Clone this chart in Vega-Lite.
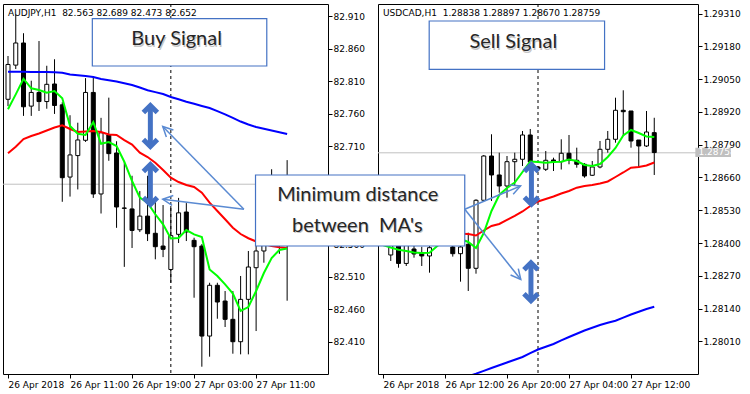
{
  "$schema": "https://vega.github.io/schema/vega-lite/v6.json",
  "background": "white",
  "padding": {"left": 2, "top": 3, "right": 5, "bottom": 3},
  "config": {
    "view": {"stroke": "black", "strokeWidth": 1, "fill": "white"},
    "axis": {"labelFont": "DejaVu Sans", "labelFontSize": 9, "labelColor": "black", "tickColor": "black", "domain": false, "grid": false, "title": null, "tickSize": 4, "labelPadding": 1, "labelOverlap": false, "labelBound": false, "labelFlush": false, "tickCount": 30},
    "title": {"font": "DejaVu Sans", "fontSize": 9, "fontWeight": "normal", "color": "black", "anchor": "start", "frame": "group", "offset": -14, "dx": 5}
  },
  "datasets": {
    "aj_c": [
      {"h": 3, "o": 82.7825, "hi": 82.849, "lo": 82.772, "c": 82.836},
      {"h": 4, "o": 82.835, "hi": 82.913, "lo": 82.829, "c": 82.869},
      {"h": 5, "o": 82.869, "hi": 82.884, "lo": 82.757, "c": 82.771},
      {"h": 6, "o": 82.772, "hi": 82.811, "lo": 82.757, "c": 82.793},
      {"h": 7, "o": 82.793, "hi": 82.872, "lo": 82.7645, "c": 82.779},
      {"h": 8, "o": 82.779, "hi": 82.834, "lo": 82.768, "c": 82.8055},
      {"h": 9, "o": 82.806, "hi": 82.844, "lo": 82.76, "c": 82.773},
      {"h": 10, "o": 82.774, "hi": 82.778, "lo": 82.625, "c": 82.662},
      {"h": 11, "o": 82.663, "hi": 82.758, "lo": 82.633, "c": 82.697},
      {"h": 12, "o": 82.696, "hi": 82.7465, "lo": 82.644, "c": 82.72},
      {"h": 13, "o": 82.7195, "hi": 82.815, "lo": 82.717, "c": 82.793},
      {"h": 14, "o": 82.793, "hi": 82.818, "lo": 82.631, "c": 82.637},
      {"h": 15, "o": 82.637, "hi": 82.754, "lo": 82.607, "c": 82.731},
      {"h": 16, "o": 82.7276, "hi": 82.785, "lo": 82.688, "c": 82.699},
      {"h": 17, "o": 82.7, "hi": 82.718, "lo": 82.585, "c": 82.617},
      {"h": 18, "o": 82.6155, "hi": 82.687, "lo": 82.525, "c": 82.615},
      {"h": 19, "o": 82.614, "hi": 82.665, "lo": 82.554, "c": 82.581},
      {"h": 20, "o": 82.582, "hi": 82.6415, "lo": 82.5785, "c": 82.603},
      {"h": 21, "o": 82.603, "hi": 82.665, "lo": 82.5647, "c": 82.576},
      {"h": 22, "o": 82.5766, "hi": 82.631, "lo": 82.5366, "c": 82.556},
      {"h": 23, "o": 82.557, "hi": 82.62, "lo": 82.54, "c": 82.552},
      {"h": 24, "o": 82.521, "hi": 82.6185, "lo": 82.5006, "c": 82.573},
      {"h": 25, "o": 82.575, "hi": 82.631, "lo": 82.5617, "c": 82.608},
      {"h": 26, "o": 82.6093, "hi": 82.623, "lo": 82.5647, "c": 82.5786},
      {"h": 27, "o": 82.5658, "hi": 82.5698, "lo": 82.4776, "c": 82.556},
      {"h": 28, "o": 82.557, "hi": 82.56, "lo": 82.3716, "c": 82.4187},
      {"h": 29, "o": 82.4187, "hi": 82.5006, "lo": 82.387, "c": 82.4967},
      {"h": 30, "o": 82.4967, "hi": 82.5006, "lo": 82.4453, "c": 82.471},
      {"h": 31, "o": 82.4725, "hi": 82.4879, "lo": 82.4326, "c": 82.4444},
      {"h": 32, "o": 82.4444, "hi": 82.4879, "lo": 82.3916, "c": 82.41},
      {"h": 33, "o": 82.41, "hi": 82.511, "lo": 82.3906, "c": 82.4751},
      {"h": 34, "o": 82.4751, "hi": 82.5494, "lo": 82.3906, "c": 82.5248},
      {"h": 35, "o": 82.5237, "hi": 82.56, "lo": 82.4264, "c": 82.5494},
      {"h": 36, "o": 82.5494, "hi": 82.583, "lo": 82.5314, "c": 82.5724},
      {"h": 37, "o": 82.572, "hi": 82.675, "lo": 82.565, "c": 82.61},
      {"h": 38, "o": 82.61, "hi": 82.63, "lo": 82.545, "c": 82.563},
      {"h": 39, "o": 82.563, "hi": 82.689, "lo": 82.473, "c": 82.652}
    ],
    "aj_m": [
      {"h": 3, "fast": 82.7671, "mid": 82.6995, "slow": 82.8249},
      {"h": 4, "fast": 82.7901, "mid": 82.7096, "slow": 82.8248},
      {"h": 5, "fast": 82.8141, "mid": 82.7215, "slow": 82.8247},
      {"h": 6, "fast": 82.7994, "mid": 82.7261, "slow": 82.8246},
      {"h": 7, "fast": 82.7968, "mid": 82.7299, "slow": 82.8245},
      {"h": 8, "fast": 82.7926, "mid": 82.7345, "slow": 82.8244},
      {"h": 9, "fast": 82.7952, "mid": 82.7391, "slow": 82.824},
      {"h": 10, "fast": 82.784, "mid": 82.7425, "slow": 82.8233},
      {"h": 11, "fast": 82.7414, "mid": 82.7368, "slow": 82.8206},
      {"h": 12, "fast": 82.7296, "mid": 82.7322, "slow": 82.8195},
      {"h": 13, "fast": 82.7276, "mid": 82.733, "slow": 82.8183},
      {"h": 14, "fast": 82.7476, "mid": 82.7338, "slow": 82.8167},
      {"h": 15, "fast": 82.7142, "mid": 82.7322, "slow": 82.8137},
      {"h": 16, "fast": 82.7168, "mid": 82.7284, "slow": 82.8118},
      {"h": 17, "fast": 82.7107, "mid": 82.7276, "slow": 82.8098},
      {"h": 18, "fast": 82.6866, "mid": 82.7199, "slow": 82.8072},
      {"h": 19, "fast": 82.6569, "mid": 82.713, "slow": 82.8044},
      {"h": 20, "fast": 82.6313, "mid": 82.7004, "slow": 82.8005},
      {"h": 21, "fast": 82.6236, "mid": 82.6938, "slow": 82.7963},
      {"h": 22, "fast": 82.6058, "mid": 82.685, "slow": 82.7935},
      {"h": 23, "fast": 82.5904, "mid": 82.6738, "slow": 82.7906},
      {"h": 24, "fast": 82.5686, "mid": 82.662, "slow": 82.786},
      {"h": 25, "fast": 82.5693, "mid": 82.6554, "slow": 82.7825},
      {"h": 26, "fast": 82.5816, "mid": 82.6508, "slow": 82.7788},
      {"h": 27, "fast": 82.575, "mid": 82.6477, "slow": 82.7755},
      {"h": 28, "fast": 82.5709, "mid": 82.6389, "slow": 82.7722},
      {"h": 29, "fast": 82.5209, "mid": 82.6236, "slow": 82.7691},
      {"h": 30, "fast": 82.5109, "mid": 82.6108, "slow": 82.7643},
      {"h": 31, "fast": 82.4982, "mid": 82.5981, "slow": 82.7594},
      {"h": 32, "fast": 82.4841, "mid": 82.5852, "slow": 82.7538},
      {"h": 33, "fast": 82.4572, "mid": 82.5755, "slow": 82.7483},
      {"h": 34, "fast": 82.4633, "mid": 82.569, "slow": 82.7437},
      {"h": 35, "fast": 82.4879, "mid": 82.564, "slow": 82.7399},
      {"h": 36, "fast": 82.5156, "mid": 82.56, "slow": 82.7372},
      {"h": 37, "fast": 82.5386, "mid": 82.557, "slow": 82.7345},
      {"h": 38, "fast": 82.5509, "mid": 82.555, "slow": 82.7318},
      {"h": 39, "fast": 82.5532, "mid": 82.554, "slow": 82.7291}
    ],
    "uc_c": [
      {"h": 4, "o": 1.2856, "hi": 1.2858, "lo": 1.2852, "c": 1.2854},
      {"h": 5, "o": 1.283525, "hi": 1.28425, "lo": 1.283287, "c": 1.28408},
      {"h": 6, "o": 1.284, "hi": 1.2842, "lo": 1.28302, "c": 1.28319},
      {"h": 7, "o": 1.28319, "hi": 1.28415, "lo": 1.283089, "c": 1.284},
      {"h": 8, "o": 1.283763, "hi": 1.28395, "lo": 1.283418, "c": 1.283565},
      {"h": 9, "o": 1.283617, "hi": 1.28385, "lo": 1.283089, "c": 1.283486},
      {"h": 10, "o": 1.283486, "hi": 1.284, "lo": 1.282823, "c": 1.283815},
      {"h": 11, "o": 1.2842, "hi": 1.2846, "lo": 1.284, "c": 1.2844},
      {"h": 12, "o": 1.2844, "hi": 1.2847, "lo": 1.28395, "c": 1.2841},
      {"h": 13, "o": 1.283843, "hi": 1.2842, "lo": 1.28346, "c": 1.283577},
      {"h": 14, "o": 1.283577, "hi": 1.2842, "lo": 1.282466, "c": 1.283843},
      {"h": 15, "o": 1.28395, "hi": 1.28441, "lo": 1.282096, "c": 1.282997},
      {"h": 16, "o": 1.282997, "hi": 1.285736, "lo": 1.282783, "c": 1.285696},
      {"h": 17, "o": 1.285696, "hi": 1.287493, "lo": 1.285668, "c": 1.287453},
      {"h": 18, "o": 1.287453, "hi": 1.288315, "lo": 1.285668, "c": 1.2867},
      {"h": 19, "o": 1.2867, "hi": 1.287585, "lo": 1.285997, "c": 1.286263},
      {"h": 20, "o": 1.286263, "hi": 1.287453, "lo": 1.285799, "c": 1.287227},
      {"h": 21, "o": 1.287227, "hi": 1.287585, "lo": 1.286263, "c": 1.287323},
      {"h": 22, "o": 1.287323, "hi": 1.288446, "lo": 1.287057, "c": 1.288287},
      {"h": 23, "o": 1.288287, "hi": 1.288525, "lo": 1.287017, "c": 1.287216},
      {"h": 24, "o": 1.287017, "hi": 1.287057, "lo": 1.286858, "c": 1.286926},
      {"h": 25, "o": 1.286926, "hi": 1.287652, "lo": 1.286858, "c": 1.287283},
      {"h": 26, "o": 1.287295, "hi": 1.287386, "lo": 1.286858, "c": 1.287227},
      {"h": 27, "o": 1.287227, "hi": 1.288116, "lo": 1.286917, "c": 1.287561},
      {"h": 28, "o": 1.287561, "hi": 1.288287, "lo": 1.287124, "c": 1.287283},
      {"h": 29, "o": 1.287283, "hi": 1.287783, "lo": 1.286989, "c": 1.287124},
      {"h": 30, "o": 1.287124, "hi": 1.28717, "lo": 1.286592, "c": 1.28666},
      {"h": 31, "o": 1.286688, "hi": 1.287255, "lo": 1.28666, "c": 1.287017},
      {"h": 32, "o": 1.287017, "hi": 1.288049, "lo": 1.286965, "c": 1.287719},
      {"h": 33, "o": 1.287719, "hi": 1.288446, "lo": 1.287585, "c": 1.288116},
      {"h": 34, "o": 1.288116, "hi": 1.289767, "lo": 1.287981, "c": 1.289267},
      {"h": 35, "o": 1.289267, "hi": 1.29006, "lo": 1.288247, "c": 1.289211},
      {"h": 36, "o": 1.289239, "hi": 1.289239, "lo": 1.287783, "c": 1.288049},
      {"h": 37, "o": 1.288088, "hi": 1.288088, "lo": 1.286989, "c": 1.28785},
      {"h": 38, "o": 1.28785, "hi": 1.289239, "lo": 1.287811, "c": 1.288406},
      {"h": 39, "o": 1.28838, "hi": 1.28897, "lo": 1.2867, "c": 1.28759}
    ],
    "uc_m": [
      {"h": 4, "fast": 1.283922, "mid": 1.28445, "slow": 1.2775},
      {"h": 5, "fast": 1.283823, "mid": 1.28444, "slow": 1.27761},
      {"h": 6, "fast": 1.283736, "mid": 1.28443, "slow": 1.27772},
      {"h": 7, "fast": 1.283684, "mid": 1.28442, "slow": 1.27783},
      {"h": 8, "fast": 1.283624, "mid": 1.28441, "slow": 1.27794},
      {"h": 9, "fast": 1.283605, "mid": 1.2844, "slow": 1.27805},
      {"h": 10, "fast": 1.283617, "mid": 1.2844, "slow": 1.27816},
      {"h": 11, "fast": 1.283882, "mid": 1.28439, "slow": 1.27827},
      {"h": 12, "fast": 1.28408, "mid": 1.28439, "slow": 1.27838},
      {"h": 13, "fast": 1.28416, "mid": 1.28438, "slow": 1.27849},
      {"h": 14, "fast": 1.28416, "mid": 1.28437, "slow": 1.2786},
      {"h": 15, "fast": 1.284041, "mid": 1.284358, "slow": 1.27871},
      {"h": 16, "fast": 1.283803, "mid": 1.284299, "slow": 1.278815},
      {"h": 17, "fast": 1.284398, "mid": 1.284497, "slow": 1.278928},
      {"h": 18, "fast": 1.285271, "mid": 1.284676, "slow": 1.279041},
      {"h": 19, "fast": 1.285906, "mid": 1.284755, "slow": 1.27915},
      {"h": 20, "fast": 1.286184, "mid": 1.284914, "slow": 1.27926},
      {"h": 21, "fast": 1.286402, "mid": 1.285073, "slow": 1.27937},
      {"h": 22, "fast": 1.286819, "mid": 1.285251, "slow": 1.279478},
      {"h": 23, "fast": 1.287235, "mid": 1.28547, "slow": 1.279627},
      {"h": 24, "fast": 1.287216, "mid": 1.285648, "slow": 1.279775},
      {"h": 25, "fast": 1.287188, "mid": 1.285747, "slow": 1.279885},
      {"h": 26, "fast": 1.287216, "mid": 1.285846, "slow": 1.279994},
      {"h": 27, "fast": 1.287227, "mid": 1.285965, "slow": 1.280133},
      {"h": 28, "fast": 1.287315, "mid": 1.286065, "slow": 1.280271},
      {"h": 29, "fast": 1.287255, "mid": 1.286196, "slow": 1.2804},
      {"h": 30, "fast": 1.287096, "mid": 1.286263, "slow": 1.280529},
      {"h": 31, "fast": 1.287057, "mid": 1.286303, "slow": 1.280638},
      {"h": 32, "fast": 1.287136, "mid": 1.286362, "slow": 1.280747},
      {"h": 33, "fast": 1.287414, "mid": 1.286442, "slow": 1.280833},
      {"h": 34, "fast": 1.287771, "mid": 1.28662, "slow": 1.280918},
      {"h": 35, "fast": 1.288267, "mid": 1.286799, "slow": 1.281041},
      {"h": 36, "fast": 1.288485, "mid": 1.286989, "slow": 1.281164},
      {"h": 37, "fast": 1.288366, "mid": 1.287017, "slow": 1.281273},
      {"h": 38, "fast": 1.288227, "mid": 1.287077, "slow": 1.281382},
      {"h": 39, "fast": 1.288207, "mid": 1.287196, "slow": 1.281473}
    ],
    "aj_ptr": [
      {"id": "upper", "h": 33.425, "p": 82.6134, "h2": 22.96, "p2": 82.7407},
      {"id": "lower", "h": 33.425, "p": 82.6134, "h2": 22.96, "p2": 82.6288}
    ],
    "aj_dbl": [
      {"h": 21.36, "top": 82.7729, "bot": 82.7099},
      {"h": 21.36, "top": 82.6823, "bot": 82.6208}
    ],
    "uc_ptr": [
      {"id": "upper", "h": 14.55, "p": 1.285339, "h2": 21.75, "p2": 1.286263},
      {"id": "lower", "h": 14.55, "p": 1.285339, "h2": 21.78, "p2": 1.282553}
    ],
    "uc_dbl": [
      {"h": 23.15, "top": 1.287116, "bot": 1.285541},
      {"h": 23.09, "top": 1.283216, "bot": 1.281708}
    ]
  },
  "hconcat": [
    {
      "width": 325,
      "height": 370,
      "title": {"text": "AUDJPY,H1\u00a0\u00a082.563 82.689 82.473 82.652"},
      "layer": [
        {
          "data": {"values": [{"t": 24}]},
          "mark": {"type": "rule", "color": "black", "strokeDash": [3, 3], "strokeWidth": 1},
          "encoding": {
            "x": {"field": "t", "type": "quantitative",
              "scale": {"domain": [3, 43.625], "nice": false, "zero": false},
              "axis": {"orient": "bottom", "values": [3, 11, 19, 27, 35], "labelAlign": "left", "labelPadding": 2,
                "labelExpr": "datum.value == 3 ? '26 Apr 2018' : datum.value == 11 ? '26 Apr 11:00' : datum.value == 19 ? '26 Apr 19:00' : datum.value == 27 ? '27 Apr 03:00' : '27 Apr 11:00'"}}
          }
        },
        {
          "data": {"values": [{"p": 82.652}]},
          "mark": {"type": "rule", "color": "#c0c0c0", "strokeWidth": 1},
          "encoding": {
            "y": {"field": "p", "type": "quantitative",
              "scale": {"domain": [82.3604, 82.9289], "nice": false, "zero": false},
              "axis": {"orient": "right", "tickCount": 30, "values": [82.41, 82.46, 82.51, 82.56, 82.61, 82.66, 82.71, 82.76, 82.81, 82.86, 82.91], "format": ".3f"}}
          }
        },
        {
          "data": {"name": "aj_c"},
          "mark": {"type": "rule", "color": "black", "strokeWidth": 1, "clip": true},
          "encoding": {
            "x": {"field": "h", "type": "quantitative"},
            "y": {"field": "lo", "type": "quantitative"},
            "y2": {"field": "hi"}
          }
        },
        {
          "data": {"name": "aj_c"},
          "mark": {"type": "bar", "width": 4, "stroke": "black", "strokeWidth": 1, "clip": true},
          "encoding": {
            "x": {"field": "h", "type": "quantitative"},
            "y": {"field": "o", "type": "quantitative"},
            "y2": {"field": "c"},
            "fill": {"condition": {"test": "datum.c > datum.o", "value": "white"}, "value": "black"}
          }
        },
        {
          "data": {"name": "aj_m"},
          "mark": {"type": "line", "color": "#0000ff", "strokeWidth": 2, "clip": true},
          "encoding": {"x": {"field": "h", "type": "quantitative"}, "y": {"field": "slow", "type": "quantitative"}}
        },
        {
          "data": {"name": "aj_m"},
          "mark": {"type": "line", "color": "#ff0000", "strokeWidth": 2, "clip": true},
          "encoding": {"x": {"field": "h", "type": "quantitative"}, "y": {"field": "mid", "type": "quantitative"}}
        },
        {
          "data": {"name": "aj_m"},
          "mark": {"type": "line", "color": "#00ff00", "strokeWidth": 2, "clip": true},
          "encoding": {"x": {"field": "h", "type": "quantitative"}, "y": {"field": "fast", "type": "quantitative"}}
        },
        {
          "data": {"values": [{"h": 13.875, "h2": 36.375, "p": 82.9063, "p2": 82.8336}]},
          "mark": {"type": "rect", "fill": "white", "stroke": "#4472c4", "strokeWidth": 1.2},
          "encoding": {
            "x": {"field": "h", "type": "quantitative"}, "x2": {"field": "h2"},
            "y": {"field": "p", "type": "quantitative"}, "y2": {"field": "p2"}
          }
        },
        {
          "data": {"values": [{"h": 24.75, "p": 82.8751, "label": "Buy Signal"}]},
          "mark": {"type": "text", "font": "Lato", "fontSize": 20, "color": "#000000", "opacity": 0.22, "dx": 1, "dy": 1.5, "align": "center", "baseline": "middle"},
          "encoding": {
            "x": {"field": "h", "type": "quantitative"},
            "y": {"field": "p", "type": "quantitative"},
            "text": {"field": "label"}
          }
        },
        {
          "data": {"values": [{"h": 24.75, "p": 82.8751, "label": "Buy Signal"}]},
          "mark": {"type": "text", "font": "Lato", "fontSize": 20, "color": "#262626", "align": "center", "baseline": "middle"},
          "encoding": {
            "x": {"field": "h", "type": "quantitative"},
            "y": {"field": "p", "type": "quantitative"},
            "text": {"field": "label"}
          }
        },
        {
          "data": {"name": "aj_ptr"},
          "mark": {"type": "rule", "color": "#5a8ad2", "strokeWidth": 1.5},
          "encoding": {
            "x": {"field": "h", "type": "quantitative"}, "x2": {"field": "h2"},
            "y": {"field": "p", "type": "quantitative"}, "y2": {"field": "p2"}
          }
        },
        {
          "data": {"name": "aj_ptr"},
          "transform": [{"filter": "datum.id == 'upper'"}],
          "mark": {"type": "point", "shape": "M-1,-0.5L0,0L-1,0.5", "filled": false, "color": "#5a8ad2", "strokeWidth": 1.5, "size": 400, "angle": 224.7, "opacity": 1},
          "encoding": {"x": {"field": "h2", "type": "quantitative"}, "y": {"field": "p2", "type": "quantitative"}}
        },
        {
          "data": {"name": "aj_ptr"},
          "transform": [{"filter": "datum.id == 'lower'"}],
          "mark": {"type": "point", "shape": "M-1,-0.5L0,0L-1,0.5", "filled": false, "color": "#5a8ad2", "strokeWidth": 1.5, "size": 400, "angle": 186.8, "opacity": 1},
          "encoding": {"x": {"field": "h2", "type": "quantitative"}, "y": {"field": "p2", "type": "quantitative"}}
        },
        {
          "data": {"name": "aj_dbl"},
          "mark": {"type": "rule", "color": "#4472c4", "strokeWidth": 5},
          "encoding": {
            "x": {"field": "h", "type": "quantitative"},
            "y": {"field": "top", "type": "quantitative"}, "y2": {"field": "bot"}
          }
        },
        {
          "data": {"name": "aj_dbl"},
          "mark": {"type": "point", "shape": "M-1,1L0,0L1,1", "filled": false, "color": "#4472c4", "strokeWidth": 5, "size": 196, "opacity": 1},
          "encoding": {"x": {"field": "h", "type": "quantitative"}, "y": {"field": "top", "type": "quantitative"}}
        },
        {
          "data": {"name": "aj_dbl"},
          "mark": {"type": "point", "shape": "M-1,-1L0,0L1,-1", "filled": false, "color": "#4472c4", "strokeWidth": 5, "size": 196, "opacity": 1},
          "encoding": {"x": {"field": "h", "type": "quantitative"}, "y": {"field": "bot", "type": "quantitative"}}
        }
      ]
    },
    {
      "width": 320,
      "height": 370,
      "title": {"text": "USDCAD,H1\u00a0\u00a01.28838 1.28897 1.28670 1.28759"},
      "layer": [
        {
          "data": {"values": [{"t": 24}]},
          "mark": {"type": "rule", "color": "black", "strokeDash": [3, 3], "strokeWidth": 1},
          "encoding": {
            "x": {"field": "t", "type": "quantitative",
              "scale": {"domain": [4, 44], "nice": false, "zero": false},
              "axis": {"orient": "bottom", "values": [4, 12, 20, 28, 36], "labelAlign": "left", "labelPadding": 2,
                "labelExpr": "datum.value == 4 ? '26 Apr 2018' : datum.value == 12 ? '26 Apr 12:00' : datum.value == 20 ? '26 Apr 20:00' : datum.value == 28 ? '27 Apr 04:00' : '27 Apr 12:00'"}}
          }
        },
        {
          "data": {"values": [{"p": 1.28758}]},
          "mark": {"type": "rule", "color": "#c0c0c0", "strokeWidth": 1},
          "encoding": {
            "y": {"field": "p", "type": "quantitative",
              "scale": {"domain": [1.278802, 1.293485], "nice": false, "zero": false},
              "axis": {"orient": "right", "tickCount": 30, "values": [1.2801, 1.2814, 1.2827, 1.284, 1.2853, 1.2866, 1.2879, 1.2892, 1.2905, 1.2918, 1.2931], "format": ".5f"}}
          }
        },
        {
          "data": {"name": "uc_c"},
          "mark": {"type": "rule", "color": "black", "strokeWidth": 1, "clip": true},
          "encoding": {
            "x": {"field": "h", "type": "quantitative"},
            "y": {"field": "lo", "type": "quantitative"},
            "y2": {"field": "hi"}
          }
        },
        {
          "data": {"name": "uc_c"},
          "mark": {"type": "bar", "width": 4, "stroke": "black", "strokeWidth": 1, "clip": true},
          "encoding": {
            "x": {"field": "h", "type": "quantitative"},
            "y": {"field": "o", "type": "quantitative"},
            "y2": {"field": "c"},
            "fill": {"condition": {"test": "datum.c > datum.o", "value": "white"}, "value": "black"}
          }
        },
        {
          "data": {"name": "uc_m"},
          "mark": {"type": "line", "color": "#0000ff", "strokeWidth": 2, "clip": true},
          "encoding": {"x": {"field": "h", "type": "quantitative"}, "y": {"field": "slow", "type": "quantitative"}}
        },
        {
          "data": {"name": "uc_m"},
          "mark": {"type": "line", "color": "#ff0000", "strokeWidth": 2, "clip": true},
          "encoding": {"x": {"field": "h", "type": "quantitative"}, "y": {"field": "mid", "type": "quantitative"}}
        },
        {
          "data": {"name": "uc_m"},
          "mark": {"type": "line", "color": "#00ff00", "strokeWidth": 2, "clip": true},
          "encoding": {"x": {"field": "h", "type": "quantitative"}, "y": {"field": "fast", "type": "quantitative"}}
        },
        {
          "data": {"values": [{"h": 44.3, "h2": 48.9, "p": 1.287783, "p2": 1.287414}]},
          "mark": {"type": "rect", "fill": "#c0c0c0"},
          "encoding": {
            "x": {"field": "h", "type": "quantitative"}, "x2": {"field": "h2"},
            "y": {"field": "p", "type": "quantitative"}, "y2": {"field": "p2"}
          }
        },
        {
          "data": {"values": [{"h": 44.71, "p": 1.2876, "label": "1.28758"}]},
          "mark": {"type": "text", "font": "DejaVu Sans", "fontSize": 9, "color": "white", "align": "left", "baseline": "middle"},
          "encoding": {
            "x": {"field": "h", "type": "quantitative"},
            "y": {"field": "p", "type": "quantitative"},
            "text": {"field": "label"}
          }
        },
        {
          "data": {"values": [{"h": 9.96, "h2": 32.59, "p": 1.29281, "p2": 1.290894}]},
          "mark": {"type": "rect", "fill": "white", "stroke": "#4472c4", "strokeWidth": 1.2},
          "encoding": {
            "x": {"field": "h", "type": "quantitative"}, "x2": {"field": "h2"},
            "y": {"field": "p", "type": "quantitative"}, "y2": {"field": "p2"}
          }
        },
        {
          "data": {"values": [{"h": 20.81, "p": 1.291977, "label": "Sell Signal"}]},
          "mark": {"type": "text", "font": "Lato", "fontSize": 20, "color": "#000000", "opacity": 0.22, "dx": 1, "dy": 1.5, "align": "center", "baseline": "middle"},
          "encoding": {
            "x": {"field": "h", "type": "quantitative"},
            "y": {"field": "p", "type": "quantitative"},
            "text": {"field": "label"}
          }
        },
        {
          "data": {"values": [{"h": 20.81, "p": 1.291977, "label": "Sell Signal"}]},
          "mark": {"type": "text", "font": "Lato", "fontSize": 20, "color": "#262626", "align": "center", "baseline": "middle"},
          "encoding": {
            "x": {"field": "h", "type": "quantitative"},
            "y": {"field": "p", "type": "quantitative"},
            "text": {"field": "label"}
          }
        },
        {
          "data": {"values": [{"h": -12.45, "h2": 14.55, "p": 1.2867, "p2": 1.283882}]},
          "mark": {"type": "rect", "fill": "white", "stroke": "#4472c4", "strokeWidth": 1.2},
          "encoding": {
            "x": {"field": "h", "type": "quantitative"}, "x2": {"field": "h2"},
            "y": {"field": "p", "type": "quantitative"}, "y2": {"field": "p2"}
          }
        },
        {
          "data": {"values": [{"h": 0.74, "p": 1.285906, "label": "Minimum distance"}, {"h": 0.69, "p": 1.284676, "label": "between\u00a0 MA's"}]},
          "mark": {"type": "text", "font": "Lato", "fontSize": 20, "color": "#000000", "opacity": 0.22, "dx": 1, "dy": 1.5, "align": "center", "baseline": "middle"},
          "encoding": {
            "x": {"field": "h", "type": "quantitative"},
            "y": {"field": "p", "type": "quantitative"},
            "text": {"field": "label"}
          }
        },
        {
          "data": {"values": [{"h": 0.74, "p": 1.285906, "label": "Minimum distance"}, {"h": 0.69, "p": 1.284676, "label": "between\u00a0 MA's"}]},
          "mark": {"type": "text", "font": "Lato", "fontSize": 20, "color": "#262626", "align": "center", "baseline": "middle"},
          "encoding": {
            "x": {"field": "h", "type": "quantitative"},
            "y": {"field": "p", "type": "quantitative"},
            "text": {"field": "label"}
          }
        },
        {
          "data": {"name": "uc_ptr"},
          "mark": {"type": "rule", "color": "#5a8ad2", "strokeWidth": 1.5},
          "encoding": {
            "x": {"field": "h", "type": "quantitative"}, "x2": {"field": "h2"},
            "y": {"field": "p", "type": "quantitative"}, "y2": {"field": "p2"}
          }
        },
        {
          "data": {"name": "uc_ptr"},
          "transform": [{"filter": "datum.id == 'upper'"}],
          "mark": {"type": "point", "shape": "M-1,-0.5L0,0L-1,0.5", "filled": false, "color": "#5a8ad2", "strokeWidth": 1.5, "size": 400, "angle": 338, "opacity": 1},
          "encoding": {"x": {"field": "h2", "type": "quantitative"}, "y": {"field": "p2", "type": "quantitative"}}
        },
        {
          "data": {"name": "uc_ptr"},
          "transform": [{"filter": "datum.id == 'lower'"}],
          "mark": {"type": "point", "shape": "M-1,-0.5L0,0L-1,0.5", "filled": false, "color": "#5a8ad2", "strokeWidth": 1.5, "size": 400, "angle": 50.5, "opacity": 1},
          "encoding": {"x": {"field": "h2", "type": "quantitative"}, "y": {"field": "p2", "type": "quantitative"}}
        },
        {
          "data": {"name": "uc_dbl"},
          "mark": {"type": "rule", "color": "#4472c4", "strokeWidth": 5},
          "encoding": {
            "x": {"field": "h", "type": "quantitative"},
            "y": {"field": "top", "type": "quantitative"}, "y2": {"field": "bot"}
          }
        },
        {
          "data": {"name": "uc_dbl"},
          "mark": {"type": "point", "shape": "M-1,1L0,0L1,1", "filled": false, "color": "#4472c4", "strokeWidth": 5, "size": 196, "opacity": 1},
          "encoding": {"x": {"field": "h", "type": "quantitative"}, "y": {"field": "top", "type": "quantitative"}}
        },
        {
          "data": {"name": "uc_dbl"},
          "mark": {"type": "point", "shape": "M-1,-1L0,0L1,-1", "filled": false, "color": "#4472c4", "strokeWidth": 5, "size": 196, "opacity": 1},
          "encoding": {"x": {"field": "h", "type": "quantitative"}, "y": {"field": "bot", "type": "quantitative"}}
        }
      ]
    }
  ],
  "spacing": 50,
  "bounds": "flush"
}
